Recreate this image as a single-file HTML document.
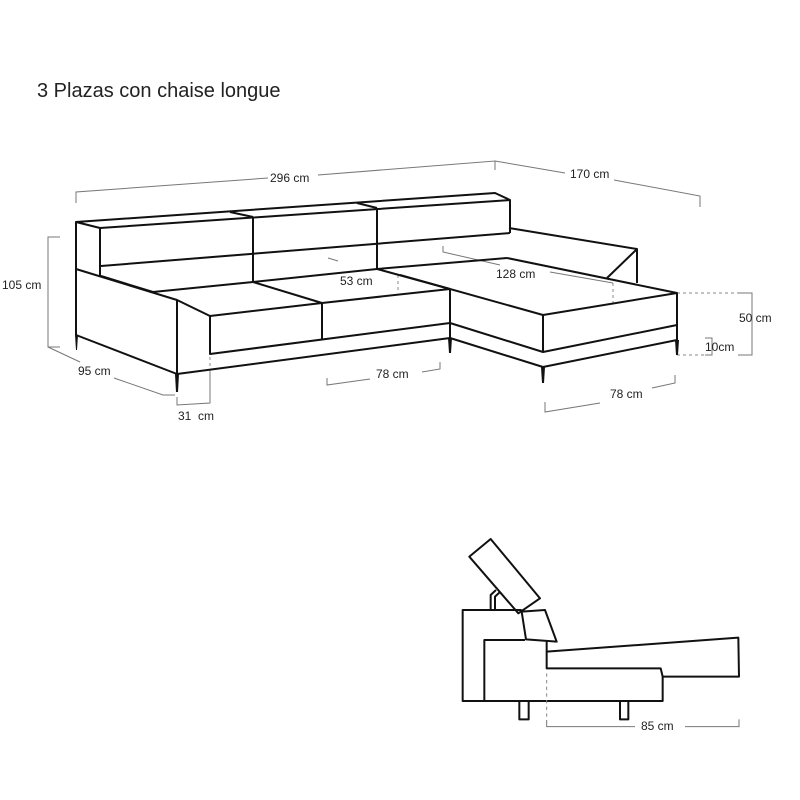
<!DOCTYPE html>
<html><head><meta charset="utf-8"><style>
html,body{margin:0;padding:0;background:#fff}
svg{display:block}
text{font-family:"Liberation Sans",sans-serif;fill:#222}
</style></head><body>
<svg width="800" height="800" viewBox="0 0 800 800" xmlns="http://www.w3.org/2000/svg">
<text x="37" y="97" font-size="20">3 Plazas con chaise longue</text>

<g stroke="#777" stroke-width="1" fill="none">
<polyline points="76,203 76,192 268,178"/>
<polyline points="318,175 495,161 495,170"/>
<polyline points="495,161 565,173"/>
<polyline points="614,180 700,196 700,207"/>
<polyline points="60,237 48,237 48,347 60,347"/>
<polyline points="48,347 80,362"/>
<polyline points="114,378 163,395 175,395"/>
<polyline points="177,397 177,405 210,403 210,372" />
<polyline points="327,378 327,385 370,379"/>
<polyline points="422,372 440,369 440,362"/>
<polyline points="545,402 545,412 600,403"/>
<polyline points="652,388 675,383 675,375"/>
<polyline points="738,293 752,293 752,355 738,355"/>
<polyline points="705,338 712,338 712,355 705,355"/>
<polyline points="328,258 338,261"/>
<polyline points="443,246 443,252 500,265"/>
<polyline points="550,272 613,283"/>
</g>
<g stroke="#888" stroke-width="1" fill="none" stroke-dasharray="3,3">
<line x1="398" y1="275" x2="398" y2="293"/>
<line x1="613" y1="283" x2="613" y2="305"/>
<line x1="677" y1="293" x2="738" y2="293"/>
<line x1="677" y1="355" x2="705" y2="355"/>
<line x1="210" y1="372" x2="210" y2="355"/>
</g>
<g font-size="12">
<text x="270" y="182">296 cm</text>
<text x="570" y="178">170 cm</text>
<text x="2" y="289">105 cm</text>
<text x="78" y="375">95 cm</text>
<text x="178" y="420">31&#160; cm</text>
<text x="340" y="285">53 cm</text>
<text x="496" y="278">128 cm</text>
<text x="376" y="378">78 cm</text>
<text x="610" y="398">78 cm</text>
<text x="739" y="322">50 cm</text>
<text x="705" y="351">10cm</text>
</g>

<g stroke="#111" stroke-width="2" fill="none" stroke-linejoin="round">
<polyline points="76,335 76,222 495,193 510,200"/>
<polyline points="76,222 100,228 510,200 510,233"/>
<line x1="230" y1="212" x2="253" y2="217"/>
<line x1="357" y1="203" x2="377" y2="208"/>
<line x1="100" y1="228" x2="100" y2="276"/>
<line x1="253" y1="217" x2="253" y2="282"/>
<line x1="377" y1="208" x2="377" y2="269"/>
<line x1="101" y1="266" x2="510" y2="233"/>
<polyline points="101,276 153,292 253,282 377,269 507,258"/>
<polyline points="76,269 177,300 210,316 322,303 450,289"/>
<line x1="177" y1="300" x2="177" y2="374"/>
<polyline points="76,335 177,374 450,338 543,367 677,340"/>
<polyline points="210,316 210,354 450,323 543,352 677,325"/>
<polyline points="253,282 322,303 322,339"/>
<line x1="377" y1="269" x2="450" y2="289"/>
<line x1="450" y1="289" x2="450" y2="338"/>
<polyline points="400,275 543,315 677,293 677,340"/>
<line x1="543" y1="315" x2="543" y2="352"/>
<polyline points="507,258 677,293"/>
<polyline points="509,228 637,249 637,283"/>
<line x1="637" y1="249" x2="607" y2="278"/>
</g>
<g fill="#111">
<polygon points="75,335 78,335 77,350 76,350"/>
<polygon points="175,374 179,374 178,392 176,392"/>
<polygon points="448,338 452,338 451,353 449,353"/>
<polygon points="541,367 545,367 544,383 542,383"/>
<polygon points="675,340 679,340 678,355 676,355"/>
</g>

<g transform="translate(440,530) scale(0.33333)">
<g stroke="#111" stroke-width="6" fill="none" stroke-linejoin="round">
<polyline points="245,240 68,240 68,513 668,513 668,440 662,415 320,415 320,335"/>
<polyline points="133,513 133,330 255,330"/>
<polygon points="245,245 315,240 350,335 258,328"/>
<polygon points="88,80 152,27 300,205 235,250"/>
<polyline points="152,240 152,195 168,180"/>
<polyline points="165,240 165,200 178,188"/>
<polyline points="320,365 895,323 897,440 668,440"/>
<rect x="238" y="513" width="28" height="55"/>
<rect x="540" y="513" width="25" height="55"/>
</g>
<line x1="320" y1="430" x2="320" y2="570" stroke="#888" stroke-width="3" stroke-dasharray="10,10"/>
<polyline points="320,570 320,590 585,590" stroke="#777" stroke-width="3" fill="none"/>
<polyline points="735,590 897,590 897,568" stroke="#777" stroke-width="3" fill="none"/>
<text x="603" y="600" font-size="36">85 cm</text>
</g>
</svg>
</body></html>
